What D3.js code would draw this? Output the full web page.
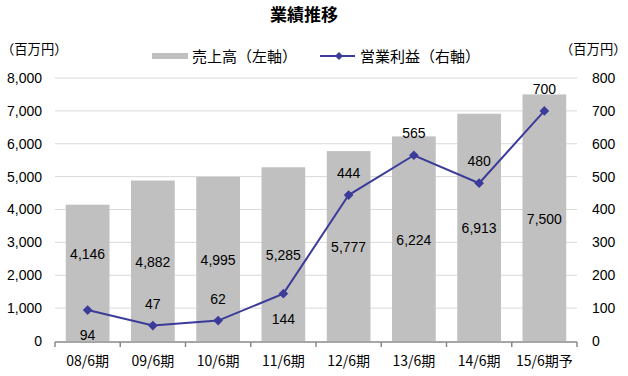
<!DOCTYPE html>
<html><head><meta charset="utf-8">
<script src="https://cdn.jsdelivr.net/npm/d3@7"></script>
<style>
body{margin:0;background:#fff;}
text{font-family:"Liberation Sans","Noto Sans CJK JP",sans-serif;fill:#000;}
.jp{font-family:"Noto Sans CJK JP",sans-serif;}
</style></head><body>
<svg id="c" width="628" height="376"></svg>
<script>
const categories = ["08/6期","09/6期","10/6期","11/6期","12/6期","13/6期","14/6期","15/6期予"];
const sales = [4146,4882,4995,5285,5777,6224,6913,7500];
const profit = [94,47,62,144,444,565,480,700];
const leftTicks = [0,1000,2000,3000,4000,5000,6000,7000,8000];
const rightTicks = [0,100,200,300,400,500,600,700,800];
const profitLabelBelow = [true,false,false,true,false,false,false,false];

const svg = d3.select("#c");
const L = 55, R = 577, T = 78, B = 341;
const x = d3.scaleBand().domain(categories).range([L,R]).paddingInner(0.33).paddingOuter(0.165);
const yL = d3.scaleLinear().domain([0,8000]).range([B,T]);
const yR = d3.scaleLinear().domain([0,800]).range([B,T]);
const lineColor = "#3b3b99";

// grid
svg.append("g").selectAll("line").data(leftTicks.slice(1)).join("line")
  .attr("x1",L).attr("x2",R).attr("y1",d=>yL(d)).attr("y2",d=>yL(d))
  .attr("stroke","#d9d9d9").attr("stroke-width",1);

// left axis
const gl = svg.append("g").attr("transform",`translate(${L},0)`)
  .call(d3.axisLeft(yL).tickValues(leftTicks).tickFormat(d3.format(",")).tickSize(0).tickPadding(13));
gl.select(".domain").remove();
gl.selectAll("text").attr("font-size",14).style("font-family","Liberation Sans, sans-serif");

const gr = svg.append("g").attr("transform",`translate(${R},0)`)
  .call(d3.axisRight(yR).tickValues(rightTicks).tickSize(0).tickPadding(15));
gr.select(".domain").remove();
gr.selectAll("text").attr("font-size",14).style("font-family","Liberation Sans, sans-serif");

// bars
svg.append("g").selectAll("rect").data(sales).join("rect")
  .attr("x",(d,i)=>x(categories[i])).attr("width",x.bandwidth())
  .attr("y",d=>yL(d)).attr("height",d=>B-yL(d)).attr("fill","#c0c0c0");

// x axis
const gx = svg.append("g").attr("transform",`translate(0,${B})`)
  .call(d3.axisBottom(x).tickSize(0).tickPadding(15));
gx.select(".domain").remove();
gx.selectAll("text").attr("font-size",14).attr("class","jp");
svg.append("line").attr("x1",L).attr("x2",R).attr("y1",B+1).attr("y2",B+1).attr("stroke","#888").attr("stroke-width",1.5);
const bounds = d3.range(categories.length+1).map(i=>L+i*(R-L)/categories.length);
svg.append("g").selectAll("line").data(bounds).join("line")
  .attr("x1",d=>d).attr("x2",d=>d).attr("y1",B+1).attr("y2",B+6).attr("stroke","#888").attr("stroke-width",1.5);

// bar labels
svg.append("g").selectAll("text").data(sales).join("text")
  .attr("x",(d,i)=>x(categories[i])+x.bandwidth()/2)
  .attr("y",(d,i)=>(yL(d)+B)/2 + (i===0?-20:0) + 6)
  .attr("text-anchor","middle").attr("font-size",14)
  .text(d=>d3.format(",")(d));

// line
const cx = i=>x(categories[i])+x.bandwidth()/2;
svg.append("path").datum(profit)
  .attr("d",d3.line().x((d,i)=>cx(i)).y(d=>yR(d)))
  .attr("fill","none").attr("stroke",lineColor).attr("stroke-width",2);
svg.append("g").selectAll("path").data(profit).join("path")
  .attr("transform",(d,i)=>`translate(${cx(i)},${yR(d)})`)
  .attr("d",d3.symbol().type(d3.symbolDiamond2).size(60))
  .attr("fill",lineColor);
svg.append("g").selectAll("text").data(profit).join("text")
  .attr("x",(d,i)=>cx(i))
  .attr("y",(d,i)=>yR(d)+(profitLabelBelow[i]?30:-17))
  .attr("text-anchor","middle").attr("font-size",14)
  .text(d=>d);

// title & units
svg.append("text").attr("x",304).attr("y",21).attr("text-anchor","middle")
  .attr("font-size",17).attr("font-weight","bold").attr("class","jp").text("業績推移");
svg.append("text").attr("x",1).attr("y",54).attr("font-size",13.3).attr("class","jp").text("（百万円）");
svg.append("text").attr("x",560).attr("y",54).attr("font-size",13.3).attr("class","jp").text("（百万円）");

// legend
svg.append("rect").attr("x",152).attr("y",53).attr("width",36).attr("height",6).attr("fill","#c0c0c0");
svg.append("text").attr("x",192).attr("y",62).attr("font-size",15).attr("class","jp").text("売上高（左軸）");
svg.append("line").attr("x1",320).attr("x2",355).attr("y1",56).attr("y2",56).attr("stroke",lineColor).attr("stroke-width",2);
svg.append("path").attr("transform","translate(339,56)").attr("d",d3.symbol().type(d3.symbolDiamond2).size(40)).attr("fill",lineColor);
svg.append("text").attr("x",360).attr("y",62).attr("font-size",15).attr("class","jp").text("営業利益（右軸）");
</script></body></html>
